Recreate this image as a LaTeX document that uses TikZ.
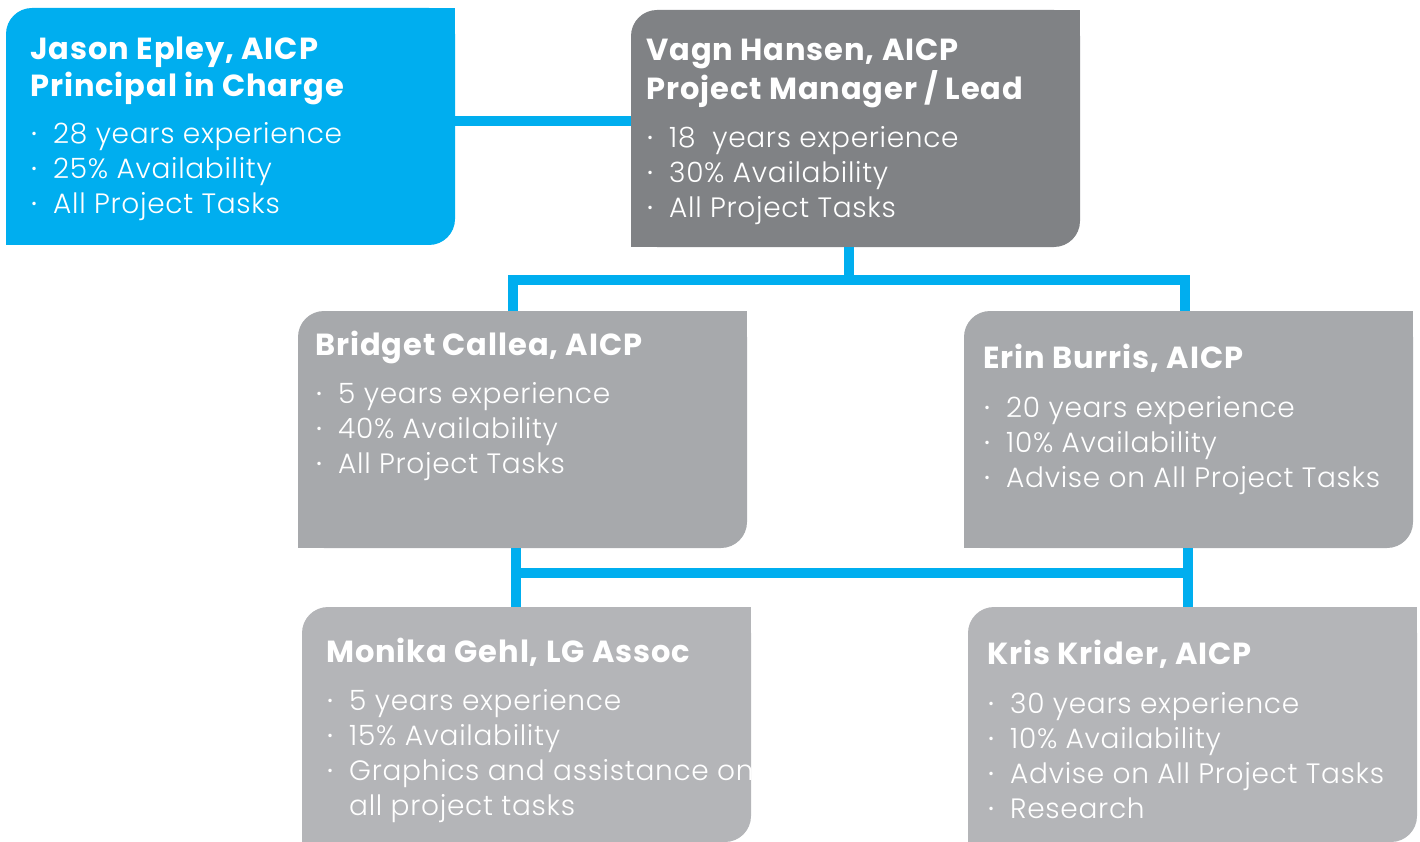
\documentclass[tikz,border=0pt]{standalone}
\usepackage{fontspec}
\setmainfont{Poppins}
\newfontfamily\lightfont{Poppins Light}
\usetikzlibrary{positioning}

\definecolor{epleyblue}{HTML}{00AEEF}
\definecolor{leadgray}{HTML}{808285}
\definecolor{teamgray}{HTML}{A7A9AC}
\definecolor{supportgray}{HTML}{B4B5B8}

\newcommand{\namefont}{\fontsize{30.5}{37}\selectfont\bfseries\addfontfeatures{LetterSpace=3.0}}
\newcommand{\itemfont}{\lightfont\fontsize{28}{35}\selectfont\addfontfeatures{LetterSpace=2.5}}
\newcommand{\pitem}[1]{\hangindent=23pt\hangafter=1\noindent\makebox[23pt][l]{\normalfont\fontsize{28}{35}\selectfont\hspace{1pt}·}#1\par}

\begin{document}
\begin{tikzpicture}[x=1pt,y=-1pt,
  orgbox/.style={rectangle, rounded corners=26pt, inner sep=0pt,
    minimum width=449pt, minimum height=237pt},
  link/.style={draw=epleyblue, line width=10pt},
  txt/.style={anchor=base west, inner sep=0pt, text=white}]

\useasboundingbox (0,0) rectangle (1420,842);

% boxes
\node[orgbox, fill=epleyblue] (jason) at (230.5,126.5) {};
\node[orgbox, fill=leadgray] (vagn) at (855.5,128.5) {};
\node[orgbox, fill=teamgray] (bridget) at (522.5,429.5) {};
\node[orgbox, fill=teamgray] (erin) at (1188.5,429.5) {};
\node[orgbox, fill=supportgray, minimum height=235pt] (monika) at (526.5,724.5) {};
\node[orgbox, fill=supportgray, minimum height=235pt] (kris) at (1192.5,724.5) {};

\foreach \n/\c in {jason/epleyblue, vagn/leadgray, bridget/teamgray,
                   erin/teamgray, monika/supportgray, kris/supportgray} {
  \fill[\c] (\n.north east) rectangle ++(-30,30);
  \fill[\c] (\n.south west) rectangle ++(30,-30);
}

% connectors
\coordinate (topbus) at (849,280);
\coordinate (lowl) at (516,573);
\coordinate (lowr) at (1188,573);
\draw[link] ([yshift=5.5pt]jason.east) -- ([yshift=5.5pt]jason.east -| vagn.west);
\draw[link] (vagn.south -| topbus) -- (topbus);
\draw[link] ([xshift=-9.5pt]bridget.north) |- (topbus) -| ([xshift=-3.5pt]erin.north);
\draw[link] (bridget.south -| lowl) -- (monika.north -| lowl);
\draw[link] (erin.south -| lowr) -- (kris.north -| lowr);
\draw[link] (lowl) -- (lowr);

% texts
\node[txt] (jasontxt) at (30,60) {\parbox[t]{420pt}{\raggedright
  {\namefont Jason Epley, AICP\\Principal in Charge\par}\vspace{12pt}
  {\itemfont\pitem{28 years experience}\pitem{25\% Availability}\pitem{All Project Tasks}}}};
\node[txt] (vagntxt) at (646,61) {\parbox[t]{420pt}{\raggedright
  {\namefont Vagn Hansen, AICP\\Project Manager / Lead\par}\vspace{13pt}
  {\itemfont\pitem{18~ years experience}\pitem{30\% Availability}\pitem{All Project Tasks}}}};
\node[txt] (bridgettxt) at (315,355) {\parbox[t]{420pt}{\raggedright
  {\namefont Bridget Callea, AICP\par}\vspace{13pt}
  {\itemfont\pitem{5 years experience}\pitem{40\% Availability}\pitem{All Project Tasks}}}};
\node[txt] (erintxt) at (983,368) {\parbox[t]{420pt}{\raggedright
  {\namefont Erin Burris, AICP\par}\vspace{14pt}
  {\itemfont\pitem{20 years experience}\pitem{10\% Availability}\pitem{Advise on All Project Tasks}}}};
\node[txt] (monikatxt) at (326,662) {\parbox[t]{440pt}{\raggedright
  {\namefont Monika Gehl, LG Assoc\par}\vspace{13pt}
  {\itemfont\pitem{5 years experience}\pitem{15\% Availability}\pitem{Graphics and assistance on\newline all project tasks}}}};
\node[txt] (kristxt) at (987,664) {\parbox[t]{420pt}{\raggedright
  {\namefont Kris Krider, AICP\par}\vspace{14pt}
  {\itemfont\pitem{30 years experience}\pitem{10\% Availability}\pitem{Advise on All Project Tasks}\pitem{Research}}}};

\end{tikzpicture}
\end{document}
